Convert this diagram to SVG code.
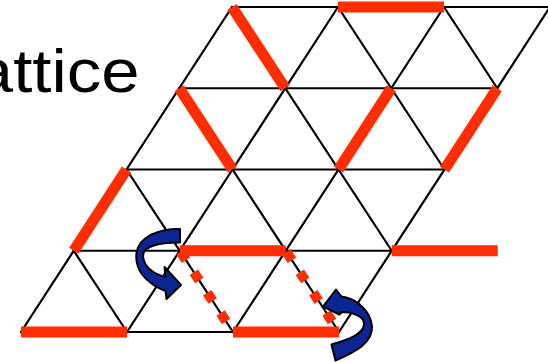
<svg xmlns="http://www.w3.org/2000/svg" width="548" height="362" viewBox="0 0 548 362">
<style>
.lat{stroke:#000;stroke-width:2.2;fill:none;stroke-linecap:round}
.bond{stroke:#ff2d00;stroke-width:11;fill:none;stroke-linecap:butt}
.dot{stroke:#ff2d00;stroke-width:10;fill:none;stroke-dasharray:10 14.4;stroke-dashoffset:23.1}
.arr{fill:#0b2595;stroke:#000;stroke-width:2;stroke-linejoin:round}
.title{font-family:"Liberation Sans",Arial,sans-serif;font-size:61px;fill:#000}
</style>
<rect width="548" height="362" fill="#fff"/>
<text class="title" transform="matrix(1.13 0 0 1 -25.2 91.7)">attice</text>
<g id="lattice" class="lat">
<line x1="232" y1="7" x2="550" y2="7"/>
<line x1="179.25" y1="88.25" x2="497.25" y2="88.25"/>
<line x1="126.5" y1="169.5" x2="444.5" y2="169.5"/>
<line x1="73.75" y1="250.75" x2="391.75" y2="250.75"/>
<line x1="21" y1="332" x2="339" y2="332"/>
<line x1="21" y1="332" x2="232" y2="7"/>
<line x1="127" y1="332" x2="338" y2="7"/>
<line x1="233" y1="332" x2="444" y2="7"/>
<line x1="339" y1="332" x2="550" y2="7"/>
<line x1="444" y1="7" x2="497.25" y2="88.25"/>
<line x1="338" y1="7" x2="444.5" y2="169.5"/>
<line x1="232" y1="7" x2="391.75" y2="250.75"/>
<line x1="179.25" y1="88.25" x2="339" y2="332"/>
<line x1="126.5" y1="169.5" x2="233" y2="332"/>
<line x1="73.75" y1="250.75" x2="127" y2="332"/>
</g>
<g id="bonds" class="bond">
<line x1="338" y1="7" x2="444" y2="7"/>
<line x1="232" y1="7" x2="285.25" y2="88.25"/>
<line x1="179.25" y1="88.25" x2="232.5" y2="169.5"/>
<line x1="338.5" y1="169.5" x2="391.25" y2="88.25"/>
<line x1="444.5" y1="169.5" x2="497.25" y2="88.25"/>
<line x1="73.75" y1="250.75" x2="126.5" y2="169.5"/>
<line x1="179.75" y1="250.75" x2="285.75" y2="250.75"/>
<line x1="391.75" y1="250.75" x2="497.75" y2="250.75"/>
<line x1="21" y1="332" x2="127" y2="332"/>
<line x1="233" y1="332" x2="339" y2="332"/>
</g>
<g id="dotted-bonds" class="dot">
<line x1="179.75" y1="250.75" x2="233" y2="332"/>
<line x1="285.75" y1="250.75" x2="339" y2="332"/>
</g>
<g id="arrow-left">
<path class="arr" d="M180,229 C160,228.5 139,236 136.5,253 C134.5,269 145,283 165.5,291 L166.5,299 L181,285 L164.5,267 L165.5,277 C153,274 143.5,266 143,256 C143,247 157,242.5 180,242.5 Z"/>
</g>
<g id="arrow-right">
<path class="arr" d="M341.5,296.5 C356,298.5 370,310 372,326 C373,343 355,352 335.5,360.5 L331.5,344.5 C350,339 362.5,334 364,325 C365,317 355,312.5 342,312 L339.5,314.5 L323,306.5 L336,289.5 Z"/>
</g>
</svg>
